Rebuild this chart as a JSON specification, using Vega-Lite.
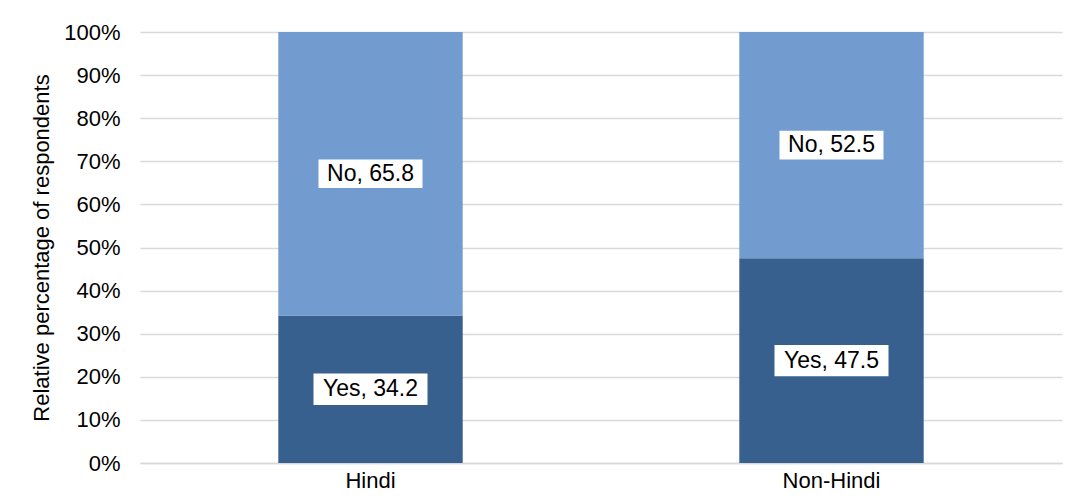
{
  "$schema": "https://vega.github.io/schema/vega-lite/v6.json",
  "width": 922,
  "height": 431,
  "autosize": {"type": "none"},
  "padding": {"left": 140, "top": 32, "right": 5, "bottom": 35},
  "background": "white",
  "config": {
    "view": {"stroke": null},
    "font": "Liberation Sans"
  },
  "data": {
    "values": [
      {"language": "Hindi", "answer": "Yes", "value": 34.2},
      {"language": "Hindi", "answer": "No", "value": 65.8},
      {"language": "Non-Hindi", "answer": "Yes", "value": 47.5},
      {"language": "Non-Hindi", "answer": "No", "value": 52.5}
    ]
  },
  "transform": [
    {"calculate": "datum.answer + ', ' + format(datum.value, '.1f')", "as": "label"}
  ],
  "encoding": {
    "x": {
      "field": "language",
      "type": "nominal",
      "sort": ["Hindi", "Non-Hindi"],
      "scale": {"paddingInner": 0.6, "paddingOuter": 0.3},
      "axis": {
        "title": null,
        "labelAngle": 0,
        "labelFontSize": 22,
        "labelColor": "#000000",
        "labelPadding": 7,
        "ticks": false,
        "domainColor": "#d9d9d9",
        "domainWidth": 1.5
      }
    }
  },
  "layer": [
    {
      "mark": {"type": "bar"},
      "encoding": {
        "y": {
          "field": "value",
          "type": "quantitative",
          "stack": "zero",
          "scale": {"domain": [0, 100]},
          "axis": {
            "title": "Relative percentage of respondents",
            "titleFontSize": 22,
            "titleFontWeight": "normal",
            "titleColor": "#000000",
            "titlePadding": 10,
            "values": [0, 10, 20, 30, 40, 50, 60, 70, 80, 90, 100],
            "labelExpr": "datum.value + '%'",
            "labelFontSize": 22,
            "labelColor": "#000000",
            "labelPadding": 20,
            "ticks": false,
            "domain": false,
            "gridColor": "#d9d9d9",
            "gridWidth": 1.5
          }
        },
        "color": {
          "field": "answer",
          "type": "nominal",
          "scale": {"domain": ["Yes", "No"], "range": ["#37608f", "#729ccf"]},
          "legend": null
        },
        "order": {"field": "answer", "sort": "descending"}
      }
    },
    {
      "mark": {
        "type": "point",
        "shape": "M-1,-0.275L1,-0.275L1,0.275L-1,0.275Z",
        "filled": true,
        "fill": "white",
        "opacity": 1,
        "strokeWidth": 0
      },
      "encoding": {
        "y": {"field": "value", "type": "quantitative", "stack": "zero", "bandPosition": 0.5},
        "size": {
          "field": "answer",
          "type": "nominal",
          "scale": {"domain": ["No", "Yes"], "range": [10816, 12996]},
          "legend": null
        },
        "order": {"field": "answer", "sort": "descending"}
      }
    },
    {
      "mark": {"type": "text", "fontSize": 23, "color": "#000000", "baseline": "middle", "align": "center"},
      "encoding": {
        "y": {"field": "value", "type": "quantitative", "stack": "zero", "bandPosition": 0.5},
        "text": {"field": "label"},
        "order": {"field": "answer", "sort": "descending"}
      }
    }
  ]
}
